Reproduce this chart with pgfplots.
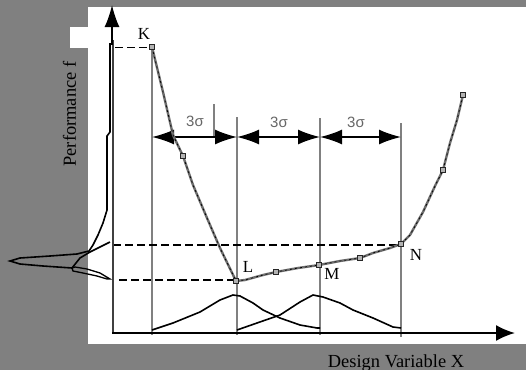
\documentclass[border=0pt]{standalone}
\usepackage{pgfplots}
\pgfplotsset{compat=1.18}
\usetikzlibrary{arrows.meta}
\usepackage{fontspec}
\setmainfont{Liberation Serif}
\newfontfamily\sansf{Liberation Sans}
\definecolor{bg}{HTML}{808080}
\definecolor{vline}{HTML}{808080}
\definecolor{curve}{HTML}{6E6E6E}
\begin{document}
\begin{tikzpicture}
\begin{axis}[scale only axis, width=526bp, height=370bp,
  xmin=0, xmax=526, ymin=0, ymax=370, y dir=reverse,
  hide axis, clip=false]
% background
\fill[bg] (axis cs:0,0) rectangle (axis cs:526,370);
\fill[white] (axis cs:88,7) rectangle (axis cs:526,344);
\fill[white] (axis cs:70,27) rectangle (axis cs:88,48);

% vertical gray lines
\addplot[vline, line width=2bp] coordinates {(152,47) (152,335)};
\addplot[vline, line width=2bp] coordinates {(237,117) (237,335)};
\addplot[vline, line width=2bp] coordinates {(320,118) (320,335)};
\addplot[vline, line width=2bp] coordinates {(401,123) (401,337)};
\addplot[vline, line width=1.4bp] coordinates {(214,104) (214,137)};

% dashed lines
\addplot[black, line width=1.8bp, dash pattern=on 8bp off 4bp] coordinates {(115,47.5) (152,47.5)};
\addplot[black, line width=1.8bp, dash pattern=on 8bp off 4bp] coordinates {(113,245) (401,245)};
\addplot[black, line width=1.8bp, dash pattern=on 8bp off 4bp] coordinates {(119,280) (236,280)};

% axes
\addplot[black!75, line width=2bp] coordinates {(113,333) (113,40)};
\addplot[black, line width=1.6bp, -{Latex[length=22bp,width=15bp]}] coordinates {(112,45) (112,5)};
\addplot[black, line width=2bp, -{Latex[length=19bp,width=16bp]}] coordinates {(112,333) (515,333)};

% 3 sigma arrows
\addplot[black, line width=1.6bp, {Latex[length=22bp,width=15bp]}-{Latex[length=22bp,width=15bp]}] coordinates {(152,137) (237,137)};
\addplot[black, line width=1.6bp, {Latex[length=22bp,width=15bp]}-{Latex[length=22bp,width=15bp]}] coordinates {(237,137) (320,137)};
\addplot[black, line width=1.6bp, {Latex[length=22bp,width=15bp]}-{Latex[length=22bp,width=15bp]}] coordinates {(320,137) (401,137)};

% bottom distributions
\addplot[black, line width=1.6bp] coordinates {(152,330) (173,323) (200,312) (220,300) (233,295) (240,296) (253,303) (263,310) (280,318) (300,325) (317,328) (320,328)};
\addplot[black, line width=1.6bp] coordinates {(237,330) (257,323) (280,315) (300,302) (313,295) (323,297) (340,303) (353,310) (373,318) (393,327) (401,328)};

% left distribution
\addplot[black, line width=1.6bp] coordinates {(110,43) (110,132) (107,136) (107,210) (103,223) (98,235) (93,245) (89,251) (77,254) (50,256) (20,258) (10,261) (20,264) (43,266) (72,268)};
\addplot[black, line width=1.6bp] coordinates {(72,268) (80,258) (90,252) (100,247) (110,242)};
\addplot[black, line width=1.3bp] coordinates {(72,268) (75,267) (87,269) (100,273) (110,279) (107,279) (97,276) (83,273) (73,271) (72,268)};

% performance curve
\addplot[curve, line width=2.4bp] coordinates {(152,47) (163,92) (173,135) (183,156) (193,185) (207,218) (220,248) (236,281) (245,280) (263,275) (276,272) (298,268) (319,265) (340,261) (360,258) (373,253) (390,248) (401,244) (410,235) (423,212) (435,186) (443,170) (450,143) (457,120) (463,95)};
\addplot[black, line width=0.7bp, dash pattern=on 2bp off 3bp] coordinates {(152,47) (163,92) (173,135) (183,156) (193,185) (207,218) (220,248) (236,281) (245,280) (263,275) (276,272) (298,268) (319,265) (340,261) (360,258) (373,253) (390,248) (401,244) (410,235) (423,212) (435,186) (443,170) (450,143) (457,120) (463,95)};
\addplot[only marks, mark=square*, mark size=2.4bp, mark options={fill=gray!60, draw=black!85, line width=0.9bp}] coordinates {(152,47) (183,156) (236,281) (276,272) (319,265) (360,258) (401,244) (443,170) (463,95)};

% labels
\node[anchor=base, font=\fontsize{17}{17}\selectfont] at (axis cs:144,39) {K};
\node[anchor=base, font=\fontsize{17}{17}\selectfont] at (axis cs:248,272) {L};
\node[anchor=base, font=\fontsize{17}{17}\selectfont] at (axis cs:332,279) {M};
\node[anchor=base, font=\fontsize{17}{17}\selectfont] at (axis cs:416,260) {N};
\node[anchor=base, text=black!60, font=\sansf\fontsize{15}{15}\selectfont] at (axis cs:195,126) {3σ};
\node[anchor=base, text=black!60, font=\sansf\fontsize{15}{15}\selectfont] at (axis cs:279,127) {3σ};
\node[anchor=base, text=black!60, font=\sansf\fontsize{15}{15}\selectfont] at (axis cs:356,127) {3σ};
\node[rotate=90, anchor=center, font=\fontsize{18.5}{18.5}\selectfont] at (axis cs:69.5,114) {Performance f};
\node[anchor=base, font=\fontsize{18.5}{18.5}\selectfont] at (axis cs:396,367) {Design Variable X};
\end{axis}
\pgfresetboundingbox
\useasboundingbox (current axis.south west) rectangle (current axis.north east);
\end{tikzpicture}
\end{document}
